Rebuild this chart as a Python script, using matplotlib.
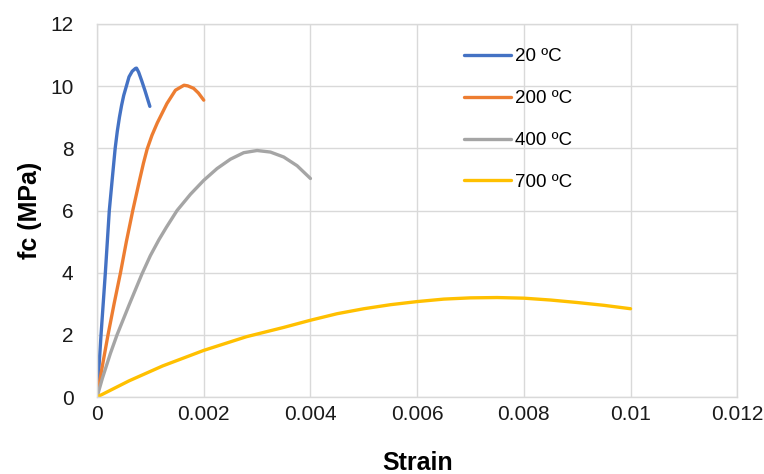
import matplotlib.pyplot as plt

plt.rcParams['font.family'] = ['Liberation Sans Narrow', 'Liberation Sans', 'DejaVu Sans']

# данные кривых (strain, fc)
strain_20 = [0, 0.000075, 0.000156, 0.00023, 0.00029, 0.00034, 0.00038, 0.00042, 0.00046, 0.0005,
             0.00055, 0.0006, 0.00066, 0.00072, 0.00074, 0.00078, 0.00084, 0.0009, 0.00099]
fc_20 = [0, 2, 4, 6, 7.1, 8, 8.55, 9.0, 9.38, 9.7,
         10.0, 10.3, 10.48, 10.57, 10.58, 10.45, 10.16, 9.85, 9.35]

strain_200 = [0, 0.0001, 0.000206, 0.00032, 0.00044, 0.00055, 0.00067, 0.0008, 0.00087, 0.00094,
              0.00103, 0.00113, 0.00131, 0.00147, 0.00163, 0.0017, 0.00181, 0.0019, 0.002]
fc_200 = [0, 1.0, 2, 3, 4, 5, 6, 7, 7.52, 7.98,
          8.42, 8.82, 9.44, 9.87, 10.03, 10.01, 9.93, 9.78, 9.55]

strain_400 = [0, 0.0001, 0.00025, 0.000375, 0.00061, 0.00084, 0.001, 0.00116, 0.0013, 0.0015,
              0.00175, 0.002, 0.00225, 0.0025, 0.00275, 0.003, 0.00325, 0.0035, 0.00375, 0.004]
fc_400 = [0, 0.6, 1.4, 2, 3.0, 3.95, 4.55, 5.06, 5.46, 6,
          6.52, 6.97, 7.35, 7.65, 7.86, 7.93, 7.88, 7.72, 7.44, 7.03]

strain_700 = [0, 0.0006, 0.00123, 0.002, 0.0028, 0.0035, 0.004, 0.0045, 0.005, 0.0055,
              0.006, 0.0065, 0.007, 0.0075, 0.008, 0.0085, 0.009, 0.0095, 0.01]
fc_700 = [0, 0.52, 1.0, 1.5, 1.94, 2.24, 2.47, 2.68, 2.84, 2.97,
          3.07, 3.15, 3.19, 3.2, 3.18, 3.12, 3.04, 2.95, 2.84]

labels = ['20 ºC', '200 ºC', '400 ºC', '700 ºC']
colors = ['#4472C4', '#ED7D31', '#A5A5A5', '#FFC000']

xticks = [0, 0.002, 0.004, 0.006, 0.008, 0.01, 0.012]
xticklabels = ['0', '0.002', '0.004', '0.006', '0.008', '0.01', '0.012']
yticks = [0, 2, 4, 6, 8, 10, 12]

fig = plt.figure(figsize=(7.64, 4.74), dpi=100)
ax = fig.add_axes([0.127, 0.1624, 0.838, 0.787])

series = [(strain_20, fc_20), (strain_200, fc_200), (strain_400, fc_400), (strain_700, fc_700)]
for (x, y), lab, c in zip(series, labels, colors):
    ax.plot(x, y, color=c, lw=2.4, label=lab, solid_capstyle='round', solid_joinstyle='round')

ax.set_xlim(0, 0.012)
ax.set_ylim(0, 12)
ax.set_xticks(xticks)
ax.set_xticklabels(xticklabels)
ax.set_yticks(yticks)
ax.grid(True, color='#D9D9D9', lw=1)
ax.set_axisbelow(True)
for s in ax.spines.values():
    s.set_color('#D9D9D9')
    s.set_linewidth(1)
ax.tick_params(length=0, labelsize=15, colors='#1a1a1a')
ax.tick_params(axis='y', pad=17)
ax.tick_params(axis='x', pad=6)

ax.set_xlabel('Strain', fontsize=18, fontweight='bold', labelpad=19)
ax.set_ylabel('fc (MPa)', fontsize=18, fontweight='bold', labelpad=6)

ax.legend(loc='upper left', bbox_to_anchor=(0.562, 0.955), frameon=False, fontsize=13.5,
          handlelength=2.5, handletextpad=0.2, labelspacing=1.32, borderaxespad=0)

fig.savefig('out.png', dpi=100)
